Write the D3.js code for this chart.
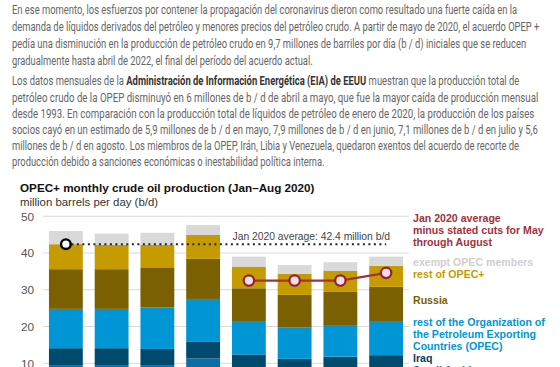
<!DOCTYPE html>
<html>
<head>
<meta charset="utf-8">
<script src="https://cdn.jsdelivr.net/npm/d3@7"></script>
<style>
  html, body { margin: 0; padding: 0; background: #fff; }
  svg { display: block; }
</style>
</head>
<body>
<svg id="chart" width="560" height="367"></svg>
<script>
// ---------- DATA ----------
const months = ["Jan", "Feb", "Mar", "Apr", "May", "Jun", "Jul", "Aug"];
const saudiArabia    = [9.5, 9.5, 9.5, 11.3, 8.5, 7.5, 8.4, 8.8];
const iraq           = [4.6, 4.6, 4.4, 4.5, 3.9, 3.7, 3.4, 3.4];
const restOfOPEC     = [10.7, 10.7, 11.3, 11.7, 9.1, 8.6, 8.6, 9.3];
const russia         = [10.8, 10.8, 10.9, 10.9, 8.9, 8.8, 9.0, 9.3];
const restOfOPECPlus = [6.8, 6.6, 6.1, 6.5, 5.9, 5.7, 5.7, 5.7];
const exemptOPEC     = [3.6, 3.1, 3.3, 2.7, 2.7, 2.4, 2.4, 2.5];
const targetMonths = ["May", "Jun", "Jul", "Aug"];
const targetValues = [32.5, 32.5, 32.5, 34.6];
const janAverage = 42.4;
const yTicks = [10, 20, 30, 40, 50];
const seriesKeys = ["saudi", "iraq", "restOPEC", "russia", "restOPECPlus", "exempt"];
const seriesColors = ["#0b6ea5", "#004a6d", "#0096d6", "#7a6000", "#c69b00", "#d9d9d9"];

const title = "OPEC+ monthly crude oil production (Jan\u2013Aug 2020)";
const subtitle = "million barrels per day (b/d)";
const avgLabel = "Jan 2020 average: 42.4 million b/d";

const para1 = [
  "En ese momento, los esfuerzos por contener la propagación del coronavirus dieron como resultado una fuerte caída en la",
  "demanda de líquidos derivados del petróleo y menores precios del petróleo crudo. A partir de mayo de 2020, el acuerdo OPEP +",
  "pedía una disminución en la producción de petróleo crudo en 9,7 millones de barriles por día (b / d) iniciales que se reducen",
  "gradualmente hasta abril de 2022, el final del período del acuerdo actual."
];
const para2 = [
  [["Los datos mensuales de la ", false], ["Administración de Información Energética (EIA) de EEUU", true], [" muestran que la producción total de", false]],
  [["petróleo crudo de la OPEP disminuyó en 6 millones de b / d de abril a mayo, que fue la mayor caída de producción mensual", false]],
  [["desde 1993. En comparación con la producción total de líquidos de petróleo de enero de 2020, la producción de los países", false]],
  [["socios cayó en un estimado de 5,9 millones de b / d en mayo, 7,9 millones de b / d en junio, 7,1 millones de b / d en julio y 5,6", false]],
  [["millones de b / d en agosto. Los miembros de la OPEP, Irán, Libia y Venezuela, quedaron exentos del acuerdo de recorte de", false]],
  [["producción debido a sanciones económicas o inestabilidad política interna.", false]]
];

const legendItems = [
  { lines: ["Jan 2020 average", "minus stated cuts for May", "through August"], color: "#a3303b" },
  { lines: ["exempt OPEC members"], color: "#cfcfcf" },
  { lines: ["rest of OPEC+"], color: "#c49a00" },
  { lines: ["Russia"], color: "#7a6000" },
  { lines: ["rest of the Organization of", "the Petroleum Exporting", "Countries (OPEC)"], color: "#0096d6" },
  { lines: ["Iraq"], color: "#0d3d59" },
  { lines: ["Saudi Arabia"], color: "#0b6ea5" }
];

// ---------- DRAW ----------
const svg = d3.select("#chart");

// paragraphs
const textLeft = 12;
const p1Ends = [518, 540, 527, 313];
const p2Ends = [520, 539, 535, 538, 520, 325];
const p1Y = [14, 31, 48, 65];
const p2Y = [85, 101.5, 118, 134, 150, 166];

const pg = svg.append("g").attr("font-family", "Roboto, 'Open Sans', sans-serif").attr("font-size", 12).attr("fill", "#666");
function addLine(yy, parts, end) {
  const t = pg.append("text").attr("x", 0).attr("y", 0);
  parts.forEach(([s, b]) => {
    t.append("tspan").text(s).attr("font-weight", b ? 700 : 400).attr("fill", b ? "#333" : "#666");
  });
  const w = t.node().getComputedTextLength();
  const sx = w > 0 ? (end - textLeft) / w : 1;
  t.attr("transform", `translate(${textLeft},${yy}) scale(${sx},1)`);
  return t;
}
para1.forEach((s, i) => addLine(p1Y[i], [[s, false]], p1Ends[i]));
para2.forEach((parts, i) => addLine(p2Y[i], parts, p2Ends[i]));

// chart
const chartFont = "'Liberation Sans', Arial, sans-serif";
const y = d3.scaleLinear().domain([0, 50]).range([400, 216.25]);
const x = d3.scaleBand().domain(months).range([43, 409]).paddingInner(0.26).paddingOuter(0.13);

const cg = svg.append("g").attr("font-family", chartFont);

cg.append("text").attr("x", 20).attr("y", 192).attr("font-size", 11.7).attr("font-weight", 700).attr("fill", "#111").text(title);
cg.append("text").attr("x", 20).attr("y", 205.5).attr("font-size", 11.4).attr("fill", "#333").text(subtitle);

// gridlines
cg.append("g").selectAll("line").data(yTicks).join("line")
  .attr("x1", 43).attr("x2", 409)
  .attr("y1", d => y(d)).attr("y2", d => y(d))
  .attr("stroke", "#d9d9d9").attr("stroke-width", 1);

// y axis labels
const yAxis = d3.axisLeft(y).tickValues(yTicks).tickSize(0).tickPadding(0);
const ya = cg.append("g").attr("transform", "translate(34,0)").call(yAxis);
ya.select(".domain").remove();
ya.selectAll("text").attr("font-size", 11.8).attr("fill", "#555").attr("font-family", chartFont);

// stacked bars
const table = months.map((m, i) => ({
  month: m, saudi: saudiArabia[i], iraq: iraq[i], restOPEC: restOfOPEC[i],
  russia: russia[i], restOPECPlus: restOfOPECPlus[i], exempt: exemptOPEC[i]
}));
const stacked = d3.stack().keys(seriesKeys)(table);
cg.append("g").selectAll("g").data(stacked).join("g")
  .attr("fill", (d, i) => seriesColors[i])
  .selectAll("rect").data(d => d).join("rect")
  .attr("x", d => x(d.data.month))
  .attr("width", x.bandwidth())
  .attr("y", d => y(d[1]))
  .attr("height", d => y(d[0]) - y(d[1]));

// Jan average dotted line + marker
const xc = m => x(m) + x.bandwidth() / 2;
cg.append("line")
  .attr("x1", xc(months[0])).attr("x2", xc(months[months.length - 1]))
  .attr("y1", y(janAverage)).attr("y2", y(janAverage))
  .attr("stroke", "#222").attr("stroke-width", 2).attr("stroke-dasharray", "2,3.5");
cg.append("circle").attr("cx", xc(months[0])).attr("cy", y(janAverage)).attr("r", 4.8)
  .attr("fill", "#fff").attr("stroke", "#000").attr("stroke-width", 2.4);
cg.append("text").attr("x", 390).attr("y", 239.5).attr("text-anchor", "end")
  .attr("font-size", 10.3).attr("fill", "#444").text(avgLabel);

// target line
const tgt = targetMonths.map((m, i) => ({ m, v: targetValues[i] }));
cg.append("path").datum(tgt)
  .attr("d", d3.line().x(d => xc(d.m)).y(d => y(d.v)))
  .attr("fill", "none").attr("stroke", "#a3303b").attr("stroke-width", 2.2);
cg.append("g").selectAll("circle").data(tgt).join("circle")
  .attr("cx", d => xc(d.m)).attr("cy", d => y(d.v)).attr("r", 5.2)
  .attr("fill", "#f6dde3").attr("stroke", "#8e2433").attr("stroke-width", 2.2);

// legend labels
const legendY = [[222, 234, 245.5], [265.5], [277.5], [304], [326, 337.5, 349.5], [362], [373.5]];
const lg = cg.append("g").attr("font-size", 10.6).attr("font-weight", 700);
legendItems.forEach((it, i) => {
  it.lines.forEach((ln, j) => {
    lg.append("text").attr("x", 413).attr("y", legendY[i][j]).attr("fill", it.color).text(ln);
  });
});
</script>
</body>
</html>
